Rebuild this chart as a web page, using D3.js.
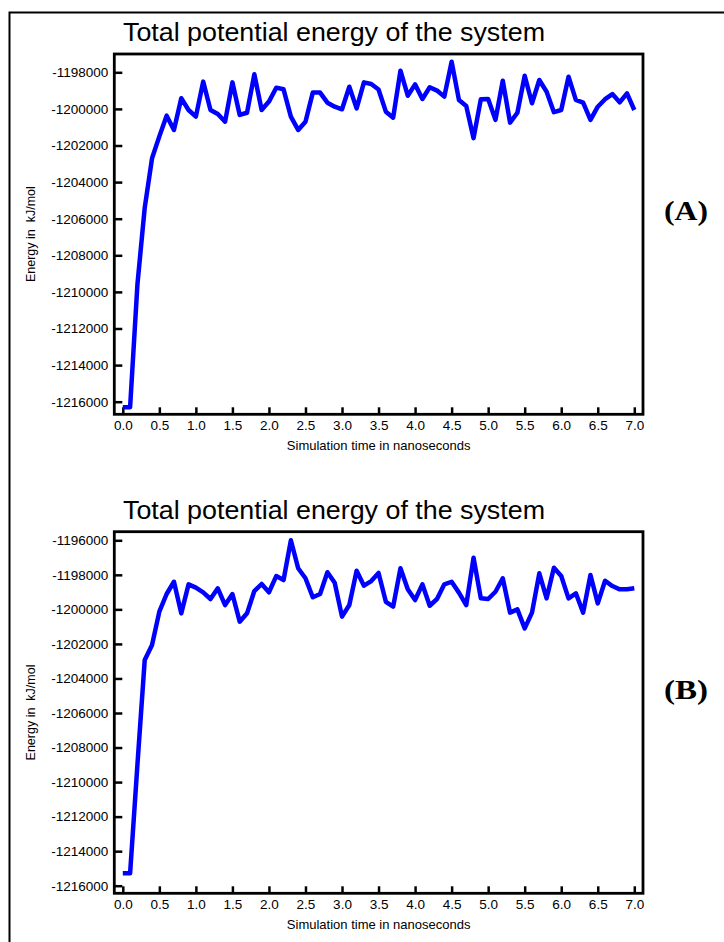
<!DOCTYPE html>
<html><head><meta charset="utf-8">
<script src="https://cdn.jsdelivr.net/npm/d3@7"></script>
<style>
body{margin:0;background:#fff}
svg{display:block}
</style>
</head><body><svg id="c" width="724" height="942" font-family="Liberation Sans, Arial, sans-serif"></svg>
<script>
const chartTitle = "Total potential energy of the system";
const xTitle = "Simulation time in nanoseconds";
const yTitle = "Energy in  kJ/mol";
const panelLabels = ["(A)", "(B)"];
const timeNs = d3.range(71).map(i => Math.round(i) / 10);
const energyA = [
-1216300,-1216300,-1209600,-1205400,-1202700,-1201500,-1200370,-1201150,-1199420,-1200060,
-1200420,-1198510,-1200060,-1200280,-1200700,-1198550,-1200330,-1200210,-1198110,-1200060,
-1199600,-1198840,-1198930,-1200420,-1201150,-1200700,-1199110,-1199110,-1199660,-1199880,
-1200020,-1198790,-1199970,-1198550,-1198640,-1198940,-1200150,-1200480,-1197910,-1199280,
-1198660,-1199460,-1198820,-1199000,-1199330,-1197420,-1199510,-1199840,-1201600,-1199470,
-1199460,-1200600,-1198460,-1200750,-1200210,-1198190,-1199690,-1198420,-1199060,-1200180,
-1200060,-1198240,-1199510,-1199660,-1200600,-1199880,-1199470,-1199190,-1199640,-1199150,
-1200060];
const energyB = [
-1215280,-1215280,-1209000,-1202930,-1202060,-1200130,-1199110,-1198400,-1200230,-1198550,
-1198740,-1199010,-1199400,-1198780,-1199750,-1199110,-1200710,-1200230,-1198940,-1198530,
-1199010,-1198070,-1198300,-1196000,-1197620,-1198200,-1199300,-1199110,-1197850,-1198460,
-1200420,-1199750,-1197760,-1198630,-1198360,-1197890,-1199560,-1199840,-1197620,-1198840,
-1199460,-1198550,-1199790,-1199400,-1198550,-1198400,-1199030,-1199750,-1197010,-1199360,
-1199400,-1198980,-1198200,-1200190,-1200000,-1201100,-1200190,-1197910,-1199360,-1197590,
-1198070,-1199360,-1199070,-1200190,-1198010,-1199650,-1198340,-1198650,-1198840,-1198840,
-1198780];
const xTicks = [0,0.5,1,1.5,2,2.5,3,3.5,4,4.5,5,5.5,6,6.5,7];
const yTicksA = [-1216000,-1214000,-1212000,-1210000,-1208000,-1206000,-1204000,-1202000,-1200000,-1198000];
const yTicksB = [-1216000,-1214000,-1212000,-1210000,-1208000,-1206000,-1204000,-1202000,-1200000,-1198000,-1196000];

const svg = d3.select("#c");
svg.append("rect").attr("width",724).attr("height",942).attr("fill","#fff");
// outer frame
svg.append("path").attr("d","M9.5,942V12.5H724").attr("fill","none").attr("stroke","#000").attr("stroke-width",2);

const frameL = 114.3, frameR = 643;
const x = d3.scaleLinear().domain([0,7]).range([122.8,634.3]);

const panels = [
  {values: energyA, ticks: yTicksA, top: 54, bottom: 414.3, yr: [401.7, 72.3], titleY: 41, labelY: 220, label: panelLabels[0]},
  {values: energyB, ticks: yTicksB, top: 531.7, bottom: 893.3, yr: [885.7, 540.3], titleY: 519, labelY: 699, label: panelLabels[1]}
];

panels.forEach(p => {
  const g = svg.append("g");
  const y = d3.scaleLinear().domain([d3.min(p.ticks), d3.max(p.ticks)]).range(p.yr);

  g.append("text").attr("x",123).attr("y",p.titleY).attr("font-size",26).attr("fill","#000")
    .attr("textLength",422).attr("lengthAdjust","spacingAndGlyphs").text(chartTitle);

  const ya = g.append("g").attr("transform",`translate(${frameL},0)`)
    .call(d3.axisLeft(y).tickValues(p.ticks).tickFormat(d => String(d)).tickSize(-8).tickPadding(6));
  ya.attr("font-family",null).attr("font-size",null);
  ya.select(".domain").remove();
  ya.selectAll("line").attr("stroke","#000").attr("stroke-width",2.5);
  ya.selectAll("text").attr("font-size",13.5).attr("fill","#000");

  const xa = g.append("g").attr("transform",`translate(0,${p.bottom})`)
    .call(d3.axisBottom(x).tickValues(xTicks).tickFormat(d3.format(".1f")).tickSize(-7).tickPadding(6.5));
  xa.attr("font-family",null).attr("font-size",null);
  xa.select(".domain").remove();
  xa.selectAll("line").attr("stroke","#000").attr("stroke-width",2.5);
  xa.selectAll("text").attr("font-size",13.5).attr("fill","#000");

  g.append("rect").attr("x",frameL).attr("y",p.top).attr("width",frameR-frameL).attr("height",p.bottom-p.top)
    .attr("fill","none").attr("stroke","#000").attr("stroke-width",2.8);

  const line = d3.line().x((d,i) => x(timeNs[i])).y(d => y(d));
  g.append("path").datum(p.values).attr("d",line).attr("fill","none")
    .attr("stroke","#0000ff").attr("stroke-width",4.5).attr("stroke-linejoin","round").attr("stroke-linecap","butt");

  g.append("text").attr("x",(frameL+frameR)/2).attr("y",p.bottom+36).attr("text-anchor","middle")
    .attr("font-size",13).attr("fill","#000").text(xTitle);

  g.append("text").attr("transform",`translate(35,${(p.top+p.bottom)/2}) rotate(-90)`).attr("text-anchor","middle")
    .attr("font-size",12.5).attr("fill","#000").style("white-space","pre").text(yTitle);

  g.append("text").attr("x",686).attr("y",p.labelY).attr("text-anchor","middle")
    .style("font-family","'Liberation Serif', 'Times New Roman', serif").style("font-weight","bold")
    .attr("font-size",27).attr("textLength",44).attr("lengthAdjust","spacingAndGlyphs")
    .attr("fill","#000").text(p.label);
});
</script></body></html>
